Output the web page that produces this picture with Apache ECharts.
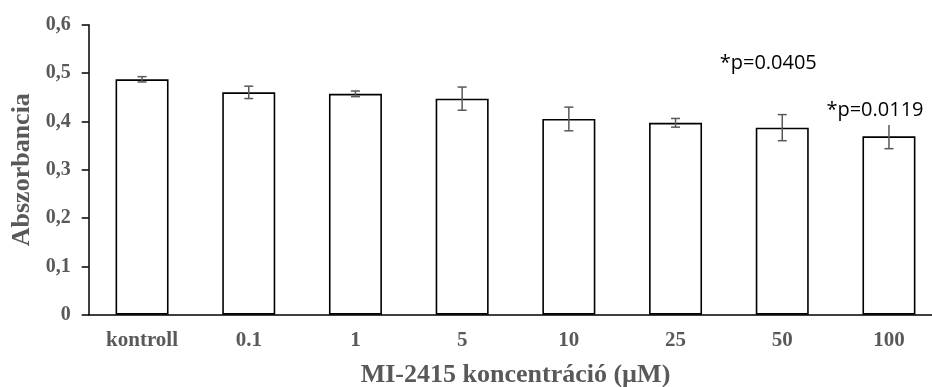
<!DOCTYPE html>
<html><head><meta charset="utf-8">
<script src="https://cdn.jsdelivr.net/npm/echarts@6/dist/echarts.min.js"></script>
<style>html,body{margin:0;padding:0;background:#fff}#c{width:932px;height:387px}</style>
</head><body><div id="c"></div>
<script>
const categories = ['kontroll', '0.1', '1', '5', '10', '25', '50', '100'];
const means = [0.487, 0.460, 0.457, 0.447, 0.405, 0.397, 0.387, 0.369];
const errors = [0.0055, 0.0128, 0.0058, 0.024, 0.0245, 0.009, 0.027, 0.0255];
const annotCategories = ['50', '100'];
const annotTexts = ['*p=0.0405', '*p=0.0119'];
const annotValues = [0.521, 0.4235];

const chart = echarts.init(document.getElementById('c'), null, {renderer: 'canvas'});
const serif = '"Liberation Serif", "Times New Roman", serif';
const gray = '#595959';
const errStyle = {stroke: gray, lineWidth: 1.5};

chart.setOption({
  animation: false,
  backgroundColor: '#fff',
  grid: {left: 88.7, top: 24.7, bottom: 72.3, right: -10.3, containLabel: false, outerBoundsMode: 'none'},
  xAxis: {
    type: 'category',
    data: categories,
    axisTick: {show: false},
    axisLine: {lineStyle: {color: '#000', width: 1.5}},
    axisLabel: {color: gray, fontFamily: serif, fontWeight: 'bold', fontSize: 21, margin: 15},
    name: 'MI-2415 koncentráció (µM)',
    nameLocation: 'middle',
    nameGap: 48,
    nameTextStyle: {color: gray, fontFamily: serif, fontWeight: 'bold', fontSize: 26}
  },
  yAxis: {
    type: 'value',
    min: 0, max: 0.6, interval: 0.1,
    splitLine: {show: false},
    axisLine: {show: true, lineStyle: {color: '#000', width: 1.5}},
    axisTick: {show: true, length: 7, lineStyle: {color: '#000', width: 1.5}},
    axisLabel: {
      color: gray, fontFamily: serif, fontWeight: 'bold', fontSize: 20, margin: 18,
      formatter: v => v === 0 ? '0' : v.toFixed(1).replace('.', ',')
    },
    name: 'Abszorbancia',
    nameLocation: 'middle',
    nameGap: 53,
    nameTextStyle: {color: gray, fontFamily: serif, fontWeight: 'bold', fontSize: 26}
  },
  series: [
    {
      type: 'bar',
      data: means,
      barWidth: 53,
      itemStyle: {color: '#fff', borderColor: '#000', borderWidth: 1.6},
      emphasis: {disabled: true}
    },
    {
      type: 'custom',
      data: categories.map((c, i) => [i, means[i], errors[i]]),
      z: 5,
      silent: true,
      renderItem: (params, api) => {
        const x = api.value(0), m = api.value(1), e = api.value(2);
        const top = api.coord([x, m + e]);
        const bot = api.coord([x, m - e]);
        const hw = 4.5;
        return {type: 'group', children: [
          {type: 'line', shape: {x1: top[0], y1: top[1], x2: bot[0], y2: bot[1]}, style: errStyle},
          {type: 'line', shape: {x1: top[0] - hw, y1: top[1], x2: top[0] + hw, y2: top[1]}, style: errStyle},
          {type: 'line', shape: {x1: bot[0] - hw, y1: bot[1], x2: bot[0] + hw, y2: bot[1]}, style: errStyle}
        ]};
      },
      markPoint: {
        symbol: 'circle',
        symbolSize: 0,
        silent: true,
        label: {
          show: true, position: 'inside', offset: [-14, 0], color: '#000',
          fontFamily: '"Open Sans", sans-serif', fontSize: 20,
          backgroundColor: '#fff', padding: [2, 2, 8, 2],
          formatter: p => p.name
        },
        data: annotTexts.map((t, i) => ({name: t, coord: [annotCategories[i], annotValues[i]]}))
      }
    }
  ]
});
</script>
</body></html>
